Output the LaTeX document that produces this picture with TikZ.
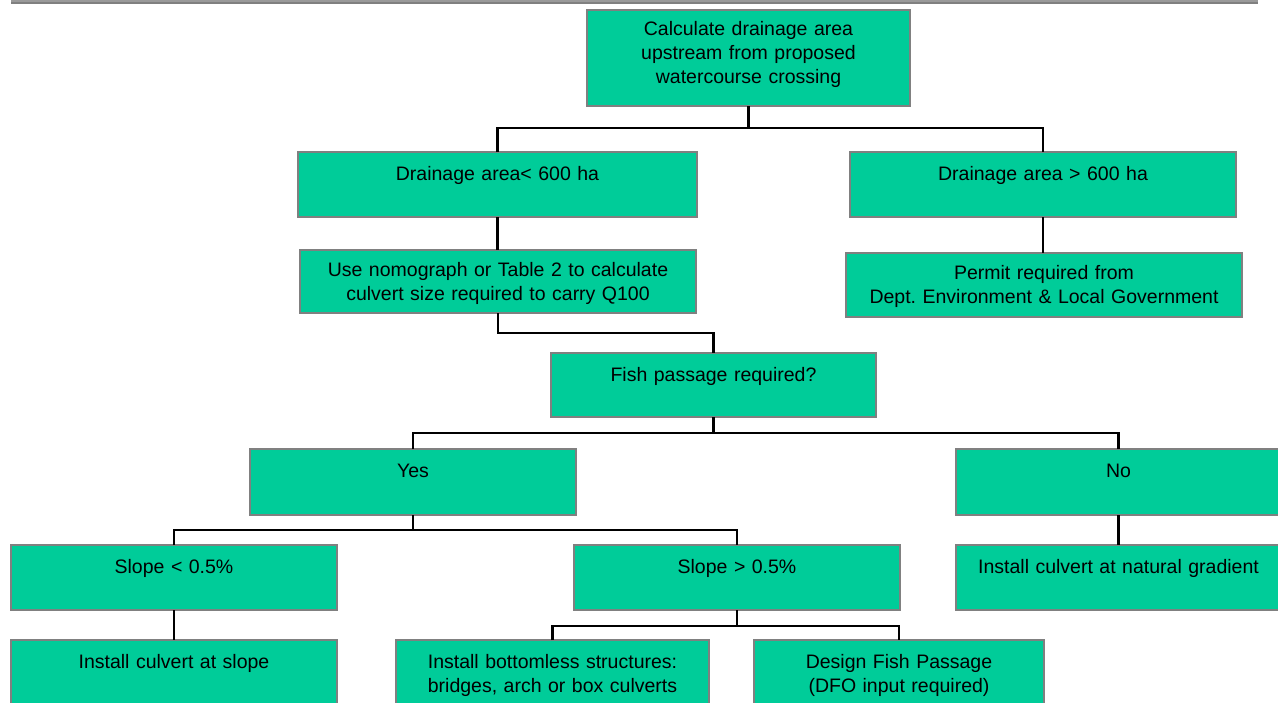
\documentclass[tikz,border=0pt]{standalone}
\usepackage{fontspec}
\setmainfont{Liberation Sans}
\usetikzlibrary{calc}
\frenchspacing
\definecolor{boxfill}{RGB}{0,204,153}
\definecolor{boxline}{RGB}{128,128,128}
\tikzset{
  fbox/.style={draw=boxline, fill=boxfill, line width=2.5pt, inner sep=0pt, outer sep=0pt, rectangle},
  ftext/.style={anchor=base, text width=420pt, align=center, inner sep=0pt, font=\fontsize{19.5}{24}\selectfont},
  conn/.style={draw=black, line width=2.8pt, line join=miter}
}
\newcommand{\fbx}[7]{%
  \node[fbox, minimum width={(#4-#2)*1pt}, minimum height={(#5-#3)*1pt}] (#1) at ({(#2+#4)/2},{(#3+#5)/2}) {};
  \node[ftext] (#1t) at ({(#2+#4)/2},{#3+#6}) {#7};
}
\begin{document}
\begin{tikzpicture}[x=1pt,y=-1pt]
\useasboundingbox (0,0) rectangle (1278,702);
\fill[white] (0,0) rectangle (1278,702);
% top rule
\coordinate (r1) at (11,0.9); \coordinate (r2) at (1258,0.9);
\coordinate (r3) at (11,2.7); \coordinate (r4) at (1258,2.7);
\draw[boxline!80, line width=1.6pt] (r1) -- (r2);
\draw[boxline, line width=1.6pt] (r3) -- (r4);
% boxes
\fbx{A}{587}{10}{910}{106}{25}{Calculate drainage area\\upstream from proposed\\watercourse crossing}
\fbx{B}{298}{152}{697}{217}{28}{Drainage area< 600 ha}
\fbx{D}{850}{152}{1236}{217}{28}{Drainage area > 600 ha}
\fbx{C}{300}{250}{696}{313}{26}{Use nomograph or Table 2 to calculate\\culvert size required to carry Q100}
\fbx{E}{846}{253}{1242}{317}{26}{Permit required from\\Dept. Environment \& Local Government}
\fbx{F}{551}{353}{876}{417}{28}{Fish passage required?}
\fbx{Y}{250}{449}{576}{515}{28}{Yes}
\fbx{N}{956}{449}{1281}{515}{28}{No}
\fbx{SL}{11}{545}{337}{610}{28}{Slope < 0.5\%}
\fbx{SG}{574}{545}{900}{610}{28}{Slope > 0.5\%}
\fbx{NG}{956}{545}{1281}{610}{28}{Install culvert at natural gradient}
\fbx{IS}{11}{640}{337}{708}{28}{Install culvert at slope}
\fbx{BS}{396}{640}{709}{708}{28}{Install bottomless structures:\\bridges, arch or box culverts}
\fbx{DF}{754}{640}{1044}{708}{28}{Design Fish Passage\\(DFO input required)}
% connectors
\draw[conn] (A.south) -- ++(0,22);
\draw[conn] (B.north) |- ($(A.south)+(0,22)$) -| (D.north);
\draw[conn] (B.south) -- (B.south |- C.north);
\draw[conn] (D.south) -- (D.south |- E.north);
\draw[conn] (C.south) -- ++(0,20) -| (F.north);
\draw[conn] (F.south) -- ++(0,16);
\draw[conn] (Y.north) |- ($(F.south)+(0,16)$) -| (N.north);
\draw[conn] (Y.south) -- ++(0,15);
\draw[conn] (SL.north) |- ($(Y.south)+(0,15)$) -| (SG.north);
\draw[conn] (SL.south) -- (IS.north);
\draw[conn] (N.south) -- (NG.north);
\draw[conn] (SG.south) -- ++(0,16);
\draw[conn] (BS.north) |- ($(SG.south)+(0,16)$) -| (DF.north);
\end{tikzpicture}
\end{document}
